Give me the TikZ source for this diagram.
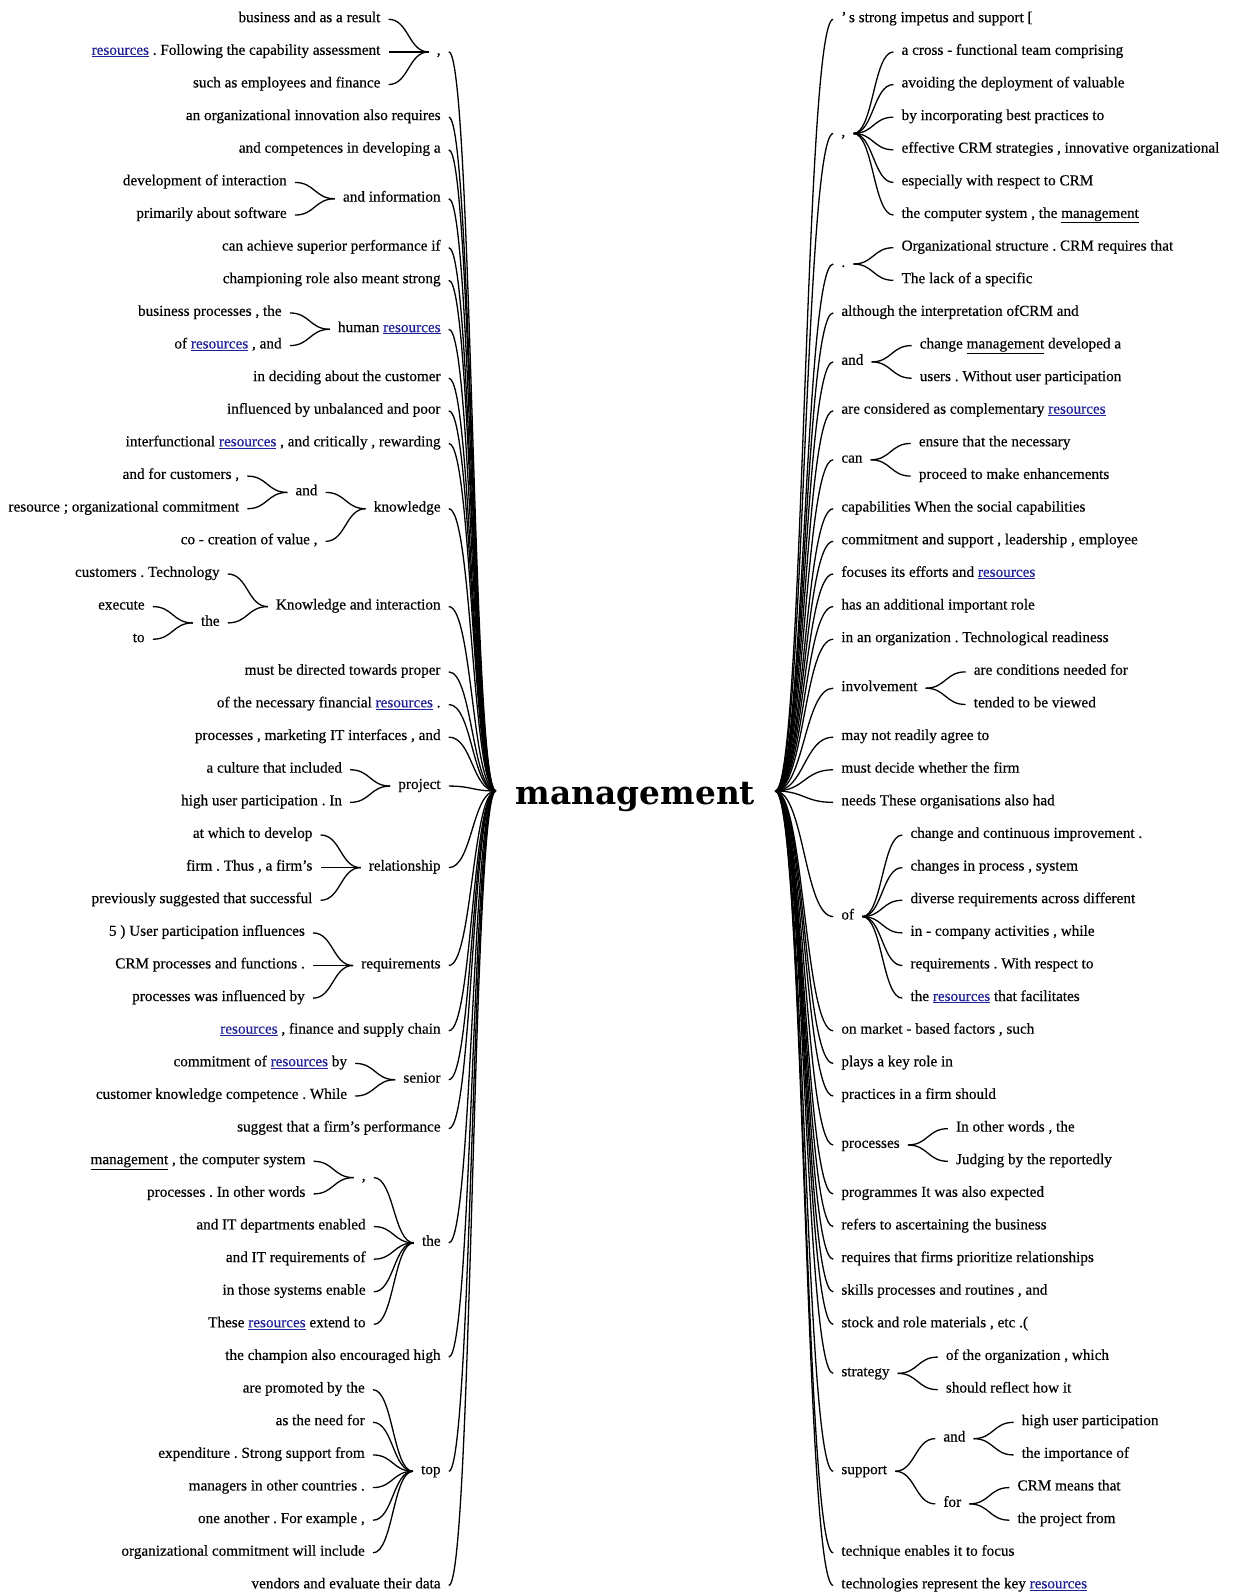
\documentclass[tikz,border=0pt]{standalone}
\usepackage{fontspec}
\usepackage{graphicx}
\setmainfont{Liberation Serif}
\newfontfamily\wordfam{Liberation Serif}[Ligatures=TeX, FakeBold=0.4]
\newfontfamily\rootfont{DejaVu Serif}
\usetikzlibrary{calc}

\definecolor{linkblue}{RGB}{32,32,150}
\newcommand\rsrc{\textcolor{linkblue}{\underline{resources}}}
\newcommand\mgmt{\underline{management}}
\newcommand\wordfont{\wordfam\frenchspacing\fontsize{15.2}{18}\selectfont}

\tikzset{
  wt/.style={font=\wordfont, inner xsep=8pt, inner ysep=1pt, text height=1.5ex, text depth=.25ex},
  wire/.style={line width=1.3pt, black},
}

% smooth horizontal-tangent link between two anchors
\newcommand\lk[2]{\draw[wire] let \p1=(#1), \p2=(#2) in
  (\p1) .. controls ({(\x1+\x2)/2},\y1) and ({(\x1+\x2)/2},\y2) .. (\p2);}

% word placed to the left / right of its parent, on a given row
\newcommand\Lw[5][40]{%
  \path let \p1=(#3.west) in node[wt, anchor=east] (#2) at ({\x1-#1pt},{-(19.3+32.628*(#4))*1pt}) {#5};
  \lk{#3.west}{#2.east}}
\newcommand\Rw[5][40]{%
  \path let \p1=(#3.east) in node[wt, anchor=west] (#2) at ({\x1+#1pt},{-(19.3+32.628*(#4))*1pt}) {#5};
  \lk{#3.east}{#2.west}}

\begin{document}
\begin{tikzpicture}[x=1pt,y=-1pt]
\fill[white] (0,0) rectangle (1233,1593);
\useasboundingbox (0,0) rectangle (1233,1593);

\node[inner xsep=20pt, inner ysep=0pt, text height=32pt, text depth=6pt, anchor=base]
  (root) at (635.5,804) {\resizebox{239pt}{!}{\rootfont\bfseries management}};

% ---------- left branch ----------
\Lw[47]{Lc}{root}{1}{,}
\Lw{Lc0}{Lc}{0}{business and as a result}
\Lw{Lc1}{Lc}{1}{\rsrc{} . Following the capability assessment}
\Lw{Lc2}{Lc}{2}{such as employees and finance}
\Lw[47]{L3}{root}{3}{an organizational innovation also requires}
\Lw[47]{L4}{root}{4}{and competences in developing a}
\Lw[47]{Linfo}{root}{5.5}{and information}
\Lw{Linfo0}{Linfo}{5}{development of interaction}
\Lw{Linfo1}{Linfo}{6}{primarily about software}
\Lw[47]{L7}{root}{7}{can achieve superior performance if}
\Lw[47]{L8}{root}{8}{championing role also meant strong}
\Lw[47]{Lhr}{root}{9.5}{human \rsrc}
\Lw{Lhr0}{Lhr}{9}{business processes , the}
\Lw{Lhr1}{Lhr}{10}{of \rsrc{} , and}
\Lw[47]{L11}{root}{11}{in deciding about the customer}
\Lw[47]{L12}{root}{12}{influenced by unbalanced and poor}
\Lw[47]{L13}{root}{13}{interfunctional \rsrc{} , and critically , rewarding}
\Lw[47]{Lkn}{root}{15}{knowledge}
\Lw{Lkna}{Lkn}{14.5}{and}
\Lw{Lkna0}{Lkna}{14}{and for customers ,}
\Lw{Lkna1}{Lkna}{15}{resource ; organizational commitment}
\Lw{Lkn1}{Lkn}{16}{co - creation of value ,}
\Lw[47]{Lki}{root}{18}{Knowledge and interaction}
\Lw{Lki0}{Lki}{17}{customers . Technology}
\Lw{Lkit}{Lki}{18.5}{the}
\Lw{Lkit0}{Lkit}{18}{execute}
\Lw{Lkit1}{Lkit}{19}{to}
\Lw[47]{L20}{root}{20}{must be directed towards proper}
\Lw[47]{L21}{root}{21}{of the necessary financial \rsrc{} .}
\Lw[47]{L22}{root}{22}{processes , marketing IT interfaces , and}
\Lw[47]{Lpj}{root}{23.5}{project}
\Lw{Lpj0}{Lpj}{23}{a culture that included}
\Lw{Lpj1}{Lpj}{24}{high user participation . In}
\Lw[47]{Lrel}{root}{26}{relationship}
\Lw{Lrel0}{Lrel}{25}{at which to develop}
\Lw{Lrel1}{Lrel}{26}{firm . Thus , a firm's}
\Lw{Lrel2}{Lrel}{27}{previously suggested that successful}
\Lw[47]{Lreq}{root}{29}{requirements}
\Lw{Lreq0}{Lreq}{28}{5 ) User participation influences}
\Lw{Lreq1}{Lreq}{29}{CRM processes and functions .}
\Lw{Lreq2}{Lreq}{30}{processes was influenced by}
\Lw[47]{L31}{root}{31}{\rsrc{} , finance and supply chain}
\Lw[47]{Lsen}{root}{32.5}{senior}
\Lw{Lsen0}{Lsen}{32}{commitment of \rsrc{} by}
\Lw{Lsen1}{Lsen}{33}{customer knowledge competence . While}
\Lw[47]{L34}{root}{34}{suggest that a firm's performance}
\Lw[47]{Lthe}{root}{37.5}{the}
\Lw{Lthec}{Lthe}{35.5}{,}
\Lw{Lthec0}{Lthec}{35}{\mgmt{} , the computer system}
\Lw{Lthec1}{Lthec}{36}{processes . In other words}
\Lw{Lthe2}{Lthe}{37}{and IT departments enabled}
\Lw{Lthe3}{Lthe}{38}{and IT requirements of}
\Lw{Lthe4}{Lthe}{39}{in those systems enable}
\Lw{Lthe5}{Lthe}{40}{These \rsrc{} extend to}
\Lw[47]{L41}{root}{41}{the champion also encouraged high}
\Lw[47]{Ltop}{root}{44.5}{top}
\Lw{Ltop0}{Ltop}{42}{are promoted by the}
\Lw{Ltop1}{Ltop}{43}{as the need for}
\Lw{Ltop2}{Ltop}{44}{expenditure . Strong support from}
\Lw{Ltop3}{Ltop}{45}{managers in other countries .}
\Lw{Ltop4}{Ltop}{46}{one another . For example ,}
\Lw{Ltop5}{Ltop}{47}{organizational commitment will include}
\Lw[47]{L48}{root}{48}{vendors and evaluate their data}

% ---------- right branch ----------
\Rw[58]{R0}{root}{0}{'\,s strong impetus and support [}
\Rw[58]{Rc}{root}{3.5}{,}
\Rw{Rc1}{Rc}{1}{a cross - functional team comprising}
\Rw{Rc2}{Rc}{2}{avoiding the deployment of valuable}
\Rw{Rc3}{Rc}{3}{by incorporating best practices to}
\Rw{Rc4}{Rc}{4}{effective CRM strategies , innovative organizational}
\Rw{Rc5}{Rc}{5}{especially with respect to CRM}
\Rw{Rc6}{Rc}{6}{the computer system , the \mgmt}
\Rw[58]{Rd}{root}{7.5}{.}
\Rw{Rd0}{Rd}{7}{Organizational structure . CRM requires that}
\Rw{Rd1}{Rd}{8}{The lack of a specific}
\Rw[58]{R9}{root}{9}{although the interpretation ofCRM and}
\Rw[58]{Ra}{root}{10.5}{and}
\Rw{Ra0}{Ra}{10}{change \mgmt{} developed a}
\Rw{Ra1}{Ra}{11}{users . Without user participation}
\Rw[58]{R12}{root}{12}{are considered as complementary \rsrc}
\Rw[58]{Rcan}{root}{13.5}{can}
\Rw{Rcan0}{Rcan}{13}{ensure that the necessary}
\Rw{Rcan1}{Rcan}{14}{proceed to make enhancements}
\Rw[58]{R15}{root}{15}{capabilities When the social capabilities}
\Rw[58]{R16}{root}{16}{commitment and support , leadership , employee}
\Rw[58]{R17}{root}{17}{focuses its efforts and \rsrc}
\Rw[58]{R18}{root}{18}{has an additional important role}
\Rw[58]{R19}{root}{19}{in an organization . Technological readiness}
\Rw[58]{Rinv}{root}{20.5}{involvement}
\Rw{Rinv0}{Rinv}{20}{are conditions needed for}
\Rw{Rinv1}{Rinv}{21}{tended to be viewed}
\Rw[58]{R22}{root}{22}{may not readily agree to}
\Rw[58]{R23}{root}{23}{must decide whether the firm}
\Rw[58]{R24}{root}{24}{needs These organisations also had}
\Rw[58]{Rof}{root}{27.5}{of}
\Rw{Rof0}{Rof}{25}{change and continuous improvement .}
\Rw{Rof1}{Rof}{26}{changes in process , system}
\Rw{Rof2}{Rof}{27}{diverse requirements across different}
\Rw{Rof3}{Rof}{28}{in - company activities , while}
\Rw{Rof4}{Rof}{29}{requirements . With respect to}
\Rw{Rof5}{Rof}{30}{the \rsrc{} that facilitates}
\Rw[58]{R31}{root}{31}{on market - based factors , such}
\Rw[58]{R32}{root}{32}{plays a key role in}
\Rw[58]{R33}{root}{33}{practices in a firm should}
\Rw[58]{Rpr}{root}{34.5}{processes}
\Rw{Rpr0}{Rpr}{34}{In other words , the}
\Rw{Rpr1}{Rpr}{35}{Judging by the reportedly}
\Rw[58]{R36}{root}{36}{programmes It was also expected}
\Rw[58]{R37}{root}{37}{refers to ascertaining the business}
\Rw[58]{R38}{root}{38}{requires that firms prioritize relationships}
\Rw[58]{R39}{root}{39}{skills processes and routines , and}
\Rw[58]{R40}{root}{40}{stock and role materials , etc .(}
\Rw[58]{Rst}{root}{41.5}{strategy}
\Rw{Rst0}{Rst}{41}{of the organization , which}
\Rw{Rst1}{Rst}{42}{should reflect how it}
\Rw[58]{Rsu}{root}{44.5}{support}
\Rw{Rsua}{Rsu}{43.5}{and}
\Rw{Rsua0}{Rsua}{43}{high user participation}
\Rw{Rsua1}{Rsua}{44}{the importance of}
\Rw{Rsuf}{Rsu}{45.5}{for}
\Rw{Rsuf0}{Rsuf}{45}{CRM means that}
\Rw{Rsuf1}{Rsuf}{46}{the project from}
\Rw[58]{R47}{root}{47}{technique enables it to focus}
\Rw[58]{R48}{root}{48}{technologies represent the key \rsrc}
\end{tikzpicture}
\end{document}
